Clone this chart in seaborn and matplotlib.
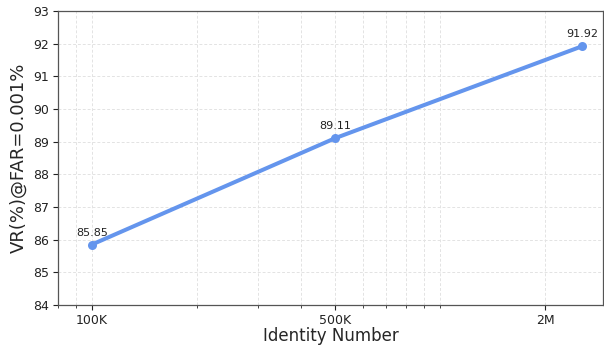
import numpy as np
import pandas as pd
import seaborn as sns
import matplotlib.pyplot as plt
from matplotlib.ticker import FixedLocator, LogLocator, NullFormatter

# Data
identities = [100_000, 500_000, 2_550_000]
vr_values = [85.85, 89.11, 91.92]
tick_values = [100_000, 500_000, 2_000_000]
tick_labels = ["100K", "500K", "2M"]

df = pd.DataFrame({"Identity Number": identities, "VR": vr_values})

sns.set_style("ticks")
plt.rcParams["font.family"] = ["DejaVu Sans"]

fig, ax = plt.subplots(figsize=(6.04, 3.47), dpi=100)
fig.subplots_adjust(left=0.096, right=0.998, top=0.968, bottom=0.121)

sns.lineplot(data=df, x="Identity Number", y="VR", ax=ax,
             color="#6495ED", linewidth=2.9, marker="o", markersize=6.5,
             markeredgewidth=0)

ax.set_xscale("log")
ax.set_xlim(80_000, 2_930_000)
ax.set_ylim(84, 93)
ax.set_yticks(range(84, 94))

ax.xaxis.set_major_locator(FixedLocator(tick_values))
ax.set_xticklabels(tick_labels)
ax.xaxis.set_minor_locator(LogLocator(base=10, subs=np.arange(1, 10)))
ax.xaxis.set_minor_formatter(NullFormatter())

ax.grid(True, which="both", axis="x", linestyle=(0, (3, 2)), color="#e3e3e3", linewidth=0.7)
ax.grid(True, which="major", axis="y", linestyle=(0, (3, 2)), color="#e3e3e3", linewidth=0.7)

for x, y in zip(identities, vr_values):
    ax.annotate(f"{y:.2f}", (x, y), xytext=(0, 5), textcoords="offset points",
                ha="center", va="bottom", fontsize=8, color="#222222")

ax.set_xlabel("Identity Number", fontsize=12, labelpad=0)
ax.set_ylabel("VR(%)@FAR=0.001%", fontsize=13, labelpad=4)
ax.tick_params(axis="both", which="major", labelsize=9, colors="#222222",
               length=3.5, width=0.8, pad=3)
ax.tick_params(axis="x", which="minor", length=2, width=0.6)

for s in ax.spines.values():
    s.set_color("#555555")
    s.set_linewidth(0.9)

plt.savefig("out.png", dpi=100)
